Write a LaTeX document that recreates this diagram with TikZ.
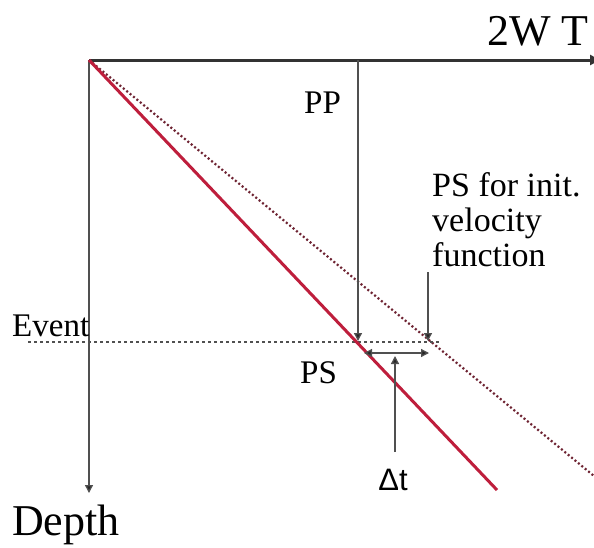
\documentclass[tikz,border=0pt]{standalone}
\usepackage{fontspec}
\setmainfont{Liberation Serif}
\newfontfamily\dtfont{Liberation Sans}
\usetikzlibrary{arrows.meta}
\definecolor{redline}{RGB}{190,30,60}
\definecolor{dotline}{RGB}{110,35,50}
\definecolor{axisgray}{RGB}{80,80,80}
\tikzset{
  bigtext/.style={font=\fontsize{44}{46}\selectfont, inner sep=0pt, anchor=base west},
  smalltext/.style={font=\fontsize{33}{35}\selectfont, inner sep=0pt, anchor=base west},
  thinarrow/.style={draw=axisgray, line width=1.3pt, -{Triangle[length=8pt,width=8pt,fill=black!85]}},
  dblarrow/.style={draw=axisgray, line width=1.3pt, {Triangle[length=8pt,width=8pt,fill=black!85]}-{Triangle[length=8pt,width=8pt,fill=black!85]}},
}
\begin{document}
\begin{tikzpicture}[x=1pt,y=-1pt]
\useasboundingbox (0,0) rectangle (594,547);
\fill[white] (0,0) rectangle (594,547);
% key points
\coordinate (O) at (89,60);
\coordinate (Tend) at (600,60);
\coordinate (Dend) at (89,493);
\coordinate (Rend) at (497,490);
\coordinate (Qend) at (594,476);
\coordinate (EvL) at (28,342);
\coordinate (EvR) at (440,342);
\coordinate (PPtop) at (358,60);
\coordinate (PPbot) at (358,341);
\coordinate (PSiTop) at (428,272);
\coordinate (PSiBot) at (428,341);
\coordinate (HL) at (364,353);
\coordinate (HR) at (429,353);
\coordinate (Vbot) at (395,452);
\coordinate (Vtop) at (395,356);
% lines
\draw[dotline, line width=2.2pt, dash pattern=on 2pt off 2.4pt] (O) -- (Qend);
\draw[axisgray, line width=1.2pt, dash pattern=on 3pt off 3pt] (EvL) -- (EvR);
\draw[draw=black!80, line width=3pt, -{Triangle[length=10pt,width=10pt]}] (O) -- (Tend);
\draw[thinarrow] (O) -- (Dend);
\draw[redline, line width=3pt] (O) -- (Rend);
\draw[thinarrow] (PPtop) -- (PPbot);
\draw[thinarrow] (PSiTop) -- (PSiBot);
\draw[dblarrow] (HL) -- (HR);
\draw[thinarrow] (Vbot) -- (Vtop);
% labels
\node[bigtext] (twt) at (487,45) {2W T};
\node[bigtext] (depth) at (12,535) {Depth};
\node[smalltext] (event) at (12,336) {Event};
\node[smalltext] (pp) at (304,113) {PP};
\node[smalltext] (ps) at (300,383) {PS};
\node[smalltext, font=\fontsize{34}{35}\selectfont, align=left, anchor=north west] (psinit) at (432,172) {PS for init.\\velocity\\function};
\node[font=\dtfont\fontsize{31}{33}\selectfont, inner sep=0pt, anchor=base] (dt) at (393,490) {Δt};
\end{tikzpicture}
\end{document}
